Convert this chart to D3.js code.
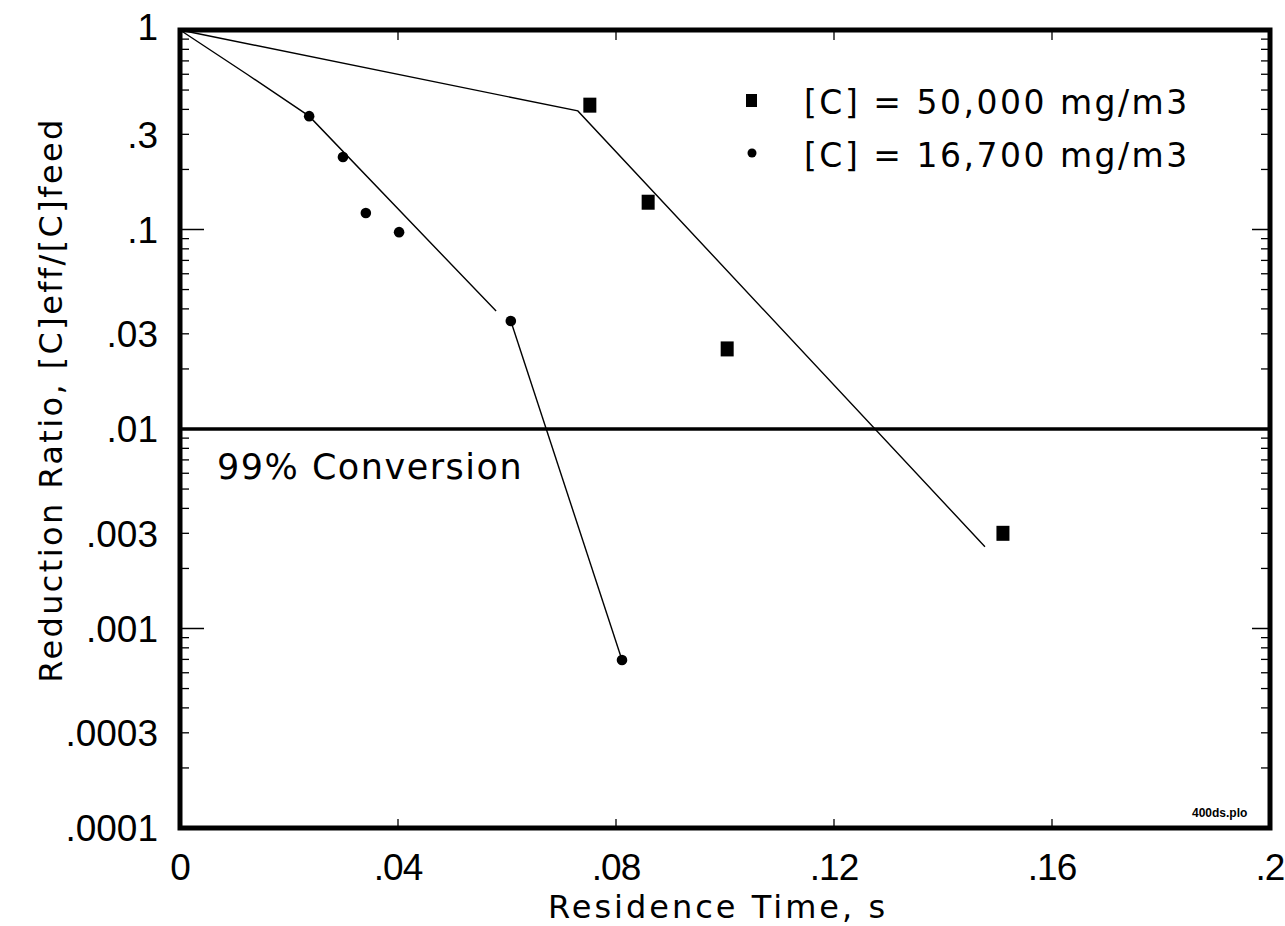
<!DOCTYPE html>
<html>
<head>
<meta charset="utf-8">
<script src="https://cdn.jsdelivr.net/npm/d3@7"></script>
<style>
    body { margin: 0; background: #fff; }
    text { fill: #000; }
</style>
</head>
<body>
<div id="chart"></div>
<script>
// data (x = residence time in s, y = [C]eff/[C]feed)
const pts50000 = [
    [0.0752, 0.42], [0.0859, 0.137], [0.1004, 0.0252], [0.151, 0.0030]
];
const pts16700 = [
    [0.0237, 0.37], [0.0299, 0.231], [0.0341, 0.121], [0.0402, 0.097],
    [0.0607, 0.0348], [0.0811, 0.000695]
];
// hand drawn fit lines
const fit50000 = [[0, 1], [0.073, 0.393], [0.1477, 0.00257]];
const fit16700a = [[0, 1], [0.0123, 0.6], [0.0237, 0.37], [0.058, 0.039]];
const fit16700b = [[0.0607, 0.0348], [0.0811, 0.000695]];
const conversionLevel = 0.01;

const xTicks = [0, 0.04, 0.08, 0.12, 0.16, 0.2];
const xTickLabels = ["0", ".04", ".08", ".12", ".16", ".2"];
const yTicks = [1, 0.3, 0.1, 0.03, 0.01, 0.003, 0.001, 0.0003, 0.0001];
const yTickLabels = ["1", ".3", ".1", ".03", ".01", ".003", ".001", ".0003", ".0001"];

const legendLabels = ["[C] = 50,000 mg/m3", "[C] = 16,700 mg/m3"];

const width = 1285, height = 926;
const pLeft = 180, pRight = 1270, pTop = 30, pBottom = 828;

const svg = d3.select("#chart").append("svg")
    .attr("width", width)
    .attr("height", height);

const x = d3.scaleLinear().domain([0, 0.2]).range([pLeft, pRight]);
const y = d3.scaleLog().domain([0.0001, 1]).range([pBottom, pTop]);

const numFont = "'Liberation Sans', Arial, sans-serif";
const txtFont = "'DejaVu Sans', Verdana, sans-serif";

// minor + major ticks on the log axis (left and right, inward)
const minor = [];
for (let e = -4; e < 0; e++) {
    for (let k = 2; k <= 9; k++) minor.push(k * Math.pow(10, e));
}
const major = [1, 0.1, 0.01, 0.001, 0.0001];

const tickG = svg.append("g").attr("stroke", "#000");
tickG.append("g").selectAll("line").data(minor).join("line")
    .attr("x1", pLeft).attr("x2", pLeft + 9)
    .attr("y1", d => y(d)).attr("y2", d => y(d))
    .attr("stroke-width", 1.3);
tickG.append("g").selectAll("line").data(minor).join("line")
    .attr("x1", pRight).attr("x2", pRight - 9)
    .attr("y1", d => y(d)).attr("y2", d => y(d))
    .attr("stroke-width", 1.3);
tickG.append("g").selectAll("line").data(major).join("line")
    .attr("x1", pLeft).attr("x2", pLeft + 24)
    .attr("y1", d => y(d)).attr("y2", d => y(d))
    .attr("stroke-width", 1.5);
tickG.append("g").selectAll("line").data(major).join("line")
    .attr("x1", pRight).attr("x2", pRight - 18)
    .attr("y1", d => y(d)).attr("y2", d => y(d))
    .attr("stroke-width", 1.5);

// x ticks, bottom (up) and top (down)
tickG.append("g").selectAll("line").data(xTicks).join("line")
    .attr("x1", d => x(d)).attr("x2", d => x(d))
    .attr("y1", pBottom).attr("y2", pBottom - 9)
    .attr("stroke-width", 1.3);
tickG.append("g").selectAll("line").data(xTicks).join("line")
    .attr("x1", d => x(d)).attr("x2", d => x(d))
    .attr("y1", pTop).attr("y2", pTop + 10)
    .attr("stroke-width", 1.3);

// 99% conversion line
svg.append("line")
    .attr("x1", pLeft).attr("x2", pRight)
    .attr("y1", y(conversionLevel)).attr("y2", y(conversionLevel))
    .attr("stroke", "#000").attr("stroke-width", 3.5);

svg.append("text")
    .attr("x", 217).attr("y", 479)
    .attr("font-family", txtFont).attr("font-size", 35)
    .attr("letter-spacing", 1.5)
    .text("99% Conversion");

// fit lines
const line = d3.line().x(d => x(d[0])).y(d => y(d[1]));
[fit50000, fit16700a, fit16700b].forEach(f => {
    svg.append("path")
        .attr("d", line(f))
        .attr("fill", "none")
        .attr("stroke", "#000")
        .attr("stroke-width", 1.4);
});

// markers
svg.append("g").selectAll("rect").data(pts50000).join("rect")
    .attr("x", d => x(d[0]) - 6.5).attr("y", d => y(d[1]) - 7.5)
    .attr("width", 13).attr("height", 15)
    .attr("fill", "#000");
svg.append("g").selectAll("circle").data(pts16700).join("circle")
    .attr("cx", d => x(d[0])).attr("cy", d => y(d[1]))
    .attr("r", 5.3)
    .attr("fill", "#000");

// frame
svg.append("rect")
    .attr("x", pLeft).attr("y", pTop)
    .attr("width", pRight - pLeft).attr("height", pBottom - pTop)
    .attr("fill", "none").attr("stroke", "#000").attr("stroke-width", 5);

// tick labels
svg.append("g").selectAll("text").data(yTicks).join("text")
    .attr("x", 158)
    .attr("y", (d, i) => y(d) + (i === 0 ? -3 : 0))
    .attr("dy", "0.36em")
    .attr("text-anchor", "end")
    .attr("font-family", numFont).attr("font-size", 37)
    .text((d, i) => yTickLabels[i]);

svg.append("g").selectAll("text").data(xTicks).join("text")
    .attr("x", d => x(d))
    .attr("y", 880)
    .attr("text-anchor", "middle")
    .attr("font-family", numFont).attr("font-size", 37)
    .attr("letter-spacing", -1)
    .text((d, i) => xTickLabels[i]);

// axis titles
svg.append("text")
    .attr("x", 718).attr("y", 918)
    .attr("text-anchor", "middle")
    .attr("font-family", txtFont).attr("font-size", 32)
    .attr("letter-spacing", 3)
    .text("Residence Time, s");

svg.append("text")
    .attr("transform", "translate(62,400) rotate(-90)")
    .attr("text-anchor", "middle")
    .attr("font-family", txtFont).attr("font-size", 32)
    .attr("letter-spacing", 2.4)
    .text("Reduction Ratio, [C]eff/[C]feed");

// legend
const legend = svg.append("g");
legend.append("rect")
    .attr("x", 746).attr("y", 94).attr("width", 11).attr("height", 13)
    .attr("fill", "#000");
legend.append("circle")
    .attr("cx", 752).attr("cy", 153).attr("r", 4.5)
    .attr("fill", "#000");
legend.selectAll("text").data(legendLabels).join("text")
    .attr("x", 804)
    .attr("y", (d, i) => 114 + i * 53)
    .attr("font-family", txtFont).attr("font-size", 33)
    .attr("letter-spacing", 2.5)
    .text(d => d);

svg.append("text")
    .attr("x", 1192).attr("y", 817)
    .attr("font-family", numFont).attr("font-size", 12)
    .attr("font-weight", "bold")
    .text("400ds.plo");
</script>
</body>
</html>
